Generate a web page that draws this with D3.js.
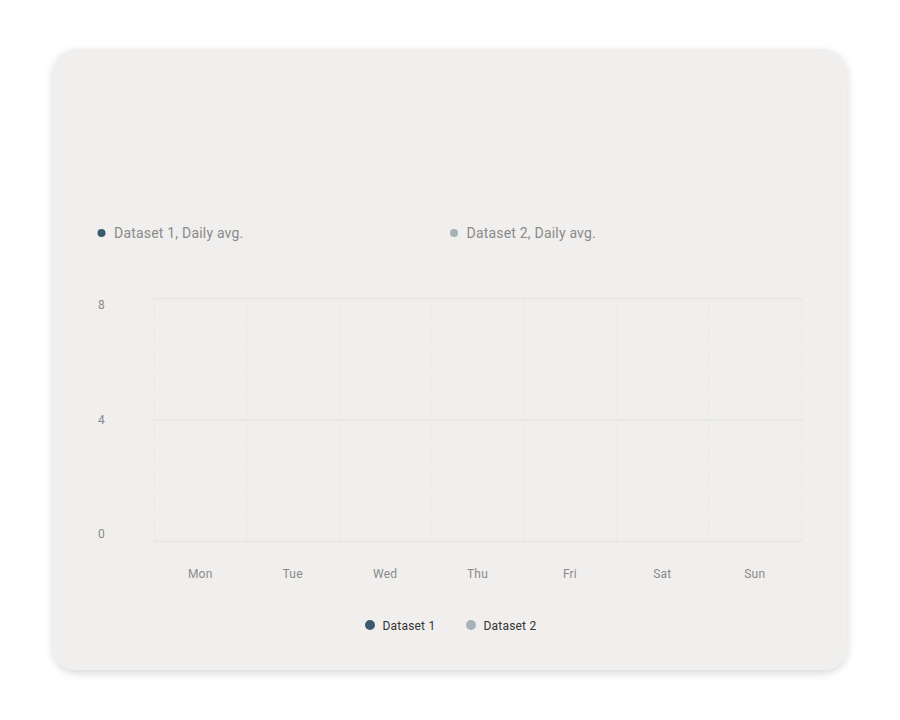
<!DOCTYPE html>
<html>
<head>
<meta charset="utf-8">
<script src="https://cdn.jsdelivr.net/npm/d3@7"></script>
<style>
  html, body { margin: 0; padding: 0; background: #ffffff; }
  body { width: 900px; height: 720px; overflow: hidden; font-family: Roboto, "Noto Sans", sans-serif; }
</style>
</head>
<body>
<div id="chart"></div>
<script>
const w = 900,
      h = 720;
const days = ['Mon', 'Tue', 'Wed', 'Thu', 'Fri', 'Sat', 'Sun'];
const seriesNames = ['Dataset 1', 'Dataset 2'];
const seriesColors = ['#3b5b6d', '#a5b0b7'];
// the reference shows no bars: every day is empty
const dataset1 = [0, 0, 0, 0, 0, 0, 0];
const dataset2 = [0, 0, 0, 0, 0, 0, 0];
const yTicks = [0, 4, 8];

const card = {x: 53, y: 49, w: 794, h: 621, r: 24};
const plot = {left: 154, right: 801, top: 298, bottom: 541};

const svg = d3.select('#chart').append('svg')
              .attr('width', w)
              .attr('height', h);

// card with soft shadow
const defs = svg.append('defs');
const shadow = defs.append('filter').attr('id', 'shadow')
                   .attr('x', '-10%').attr('y', '-10%').attr('width', '120%').attr('height', '120%');
shadow.append('feDropShadow').attr('dx', 0).attr('dy', 3).attr('stdDeviation', 4)
      .attr('flood-color', '#000').attr('flood-opacity', 0.16);

svg.append('rect')
   .attr('x', card.x).attr('y', card.y)
   .attr('width', card.w).attr('height', card.h)
   .attr('rx', card.r).attr('ry', card.r)
   .attr('fill', '#f0efed')
   .attr('filter', 'url(#shadow)');

// top legend: daily averages
const topLegend = svg.append('g');
const topX = [101.5, 454];
seriesNames.forEach((name, i) => {
    topLegend.append('circle').attr('cx', topX[i]).attr('cy', 233).attr('r', 4).attr('fill', seriesColors[i]);
    topLegend.append('text').attr('x', topX[i] + 12.5).attr('y', 233.5).attr('dy', '0.35em')
             .attr('font-size', 14).attr('letter-spacing', 0.2).attr('fill', '#8a8a8a')
             .text(name + ', Daily avg.');
});

// scales
const x = d3.scaleBand().domain(days).range([plot.left, plot.right]);
const x1 = d3.scaleBand().domain(seriesNames).range([0, x.bandwidth()]).paddingInner(0.1).paddingOuter(0.3);
const y = d3.scaleLinear().domain([0, 8]).range([plot.bottom, plot.top]);

// horizontal grid
svg.append('g').selectAll('line')
   .data(yTicks)
   .enter().append('line')
   .attr('x1', plot.left).attr('x2', plot.right)
   .attr('y1', d => y(d) + 0.5).attr('y2', d => y(d) + 0.5)
   .attr('stroke', '#e5e4e2').attr('stroke-width', 1);

// vertical dashed grid at band edges
const edges = days.map(d => x(d)).concat([plot.right]);
svg.append('g').selectAll('line')
   .data(edges)
   .enter().append('line')
   .attr('x1', d => d + 0.5).attr('x2', d => d + 0.5)
   .attr('y1', plot.top).attr('y2', plot.bottom)
   .attr('stroke', '#e6e5e3').attr('stroke-width', 1)
   .attr('stroke-dasharray', '3,3');

// y tick labels (top hangs below the line, bottom sits above it)
svg.append('g').selectAll('text')
   .data(yTicks)
   .enter().append('text')
   .attr('x', 98)
   .attr('y', d => y(d))
   .attr('dy', d => d === 8 ? '0.95em' : (d === 0 ? '-0.25em' : '0.35em'))
   .attr('font-size', 12).attr('fill', '#8a8a8a')
   .text(d => d);

// x labels
svg.append('g').selectAll('text')
   .data(days)
   .enter().append('text')
   .attr('x', d => x(d) + x.bandwidth() / 2)
   .attr('y', 574).attr('dy', '0.35em')
   .attr('text-anchor', 'middle')
   .attr('font-size', 12).attr('letter-spacing', 0.2).attr('fill', '#8a8a8a')
   .text(d => d);

// bars (all zero in the reference)
const rows = days.map((d, i) => ({day: d, values: [dataset1[i], dataset2[i]]}));
svg.append('g').selectAll('g')
   .data(rows)
   .enter().append('g')
   .attr('transform', d => 'translate(' + x(d.day) + ',0)')
   .selectAll('rect')
   .data(d => d.values.map((v, i) => ({name: seriesNames[i], value: v, color: seriesColors[i]})))
   .enter().append('rect')
   .attr('x', d => x1(d.name))
   .attr('width', x1.bandwidth())
   .attr('y', d => y(d.value))
   .attr('height', d => y(0) - y(d.value))
   .attr('fill', d => d.color);

// bottom legend
const botX = [370, 471];
seriesNames.forEach((name, i) => {
    svg.append('circle').attr('cx', botX[i]).attr('cy', 625).attr('r', 5).attr('fill', seriesColors[i]);
    svg.append('text').attr('x', botX[i] + 12.5).attr('y', 626).attr('dy', '0.35em')
       .attr('font-size', 12).attr('letter-spacing', 0.2).attr('fill', '#333')
       .text(name);
});
</script>
</body>
</html>
